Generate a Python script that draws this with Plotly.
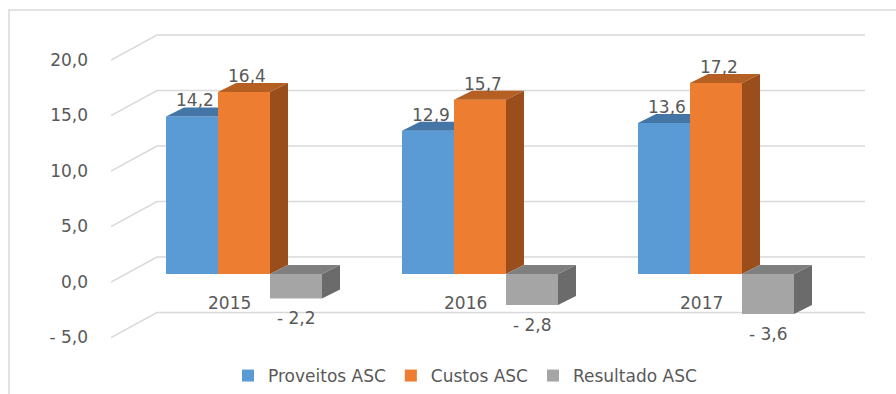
import plotly.graph_objects as go

# Chart data
years = ["2015", "2016", "2017"]
proveitos = [14.2, 12.9, 13.6]
custos = [16.4, 15.7, 17.2]
resultado = [-2.2, -2.8, -3.6]
series_names = ["Proveitos ASC", "Custos ASC", "Resultado ASC"]
tick_values = [-5, 0, 5, 10, 15, 20]
tick_labels = ["- 5,0", "0,0", "5,0", "10,0", "15,0", "20,0"]

# Colours: front face, top face, side face
front_colors = ["#5b9bd5", "#ed7d31", "#a5a5a5"]
top_colors = ["#4375a6", "#b65f23", "#7f7f7f"]
side_colors = ["#3f6d98", "#9a4e1c", "#6b6b6b"]

# Layout geometry (pixels)
W, H = 896, 394
ML, MR, MT, MB = 111, 16, 20, 44
PX_X = 236.0   # pixels per category step
PX_Y = 11.1    # pixels per value unit
plot_w = W - ML - MR
plot_h = H - MT - MB
x_min = -0.5
x_max = x_min + plot_w / PX_X
y_zero_px = 282 - MT          # zero on the front edge of the floor
y_max = y_zero_px / PX_Y
y_min = -(plot_h - y_zero_px) / PX_Y


def depth(dx_px, dy_px):
    """Oblique projection offset, pixels -> data units."""
    return dx_px / PX_X, dy_px / PX_Y


bar_off = depth(15, 8)     # floor front edge -> bar front plane
bar_depth = depth(18, 9)   # bar front -> bar back
wall_off = depth(46, 25)   # floor front edge -> back wall
bw = 52 / PX_X             # bar width

values = [proveitos, custos, resultado]
n_cat = len(years)
n_ser = len(values)

fig = go.Figure()

# Back wall gridlines with the diagonal on the side wall (behind the bars)
grid_shapes = []
for v in tick_values:
    pts = [(x_min, v), (x_min + wall_off[0], v + wall_off[1]),
           (n_cat - 0.5 + wall_off[0], v + wall_off[1])]
    path = "M " + " L ".join(f"{px},{py}" for px, py in pts)
    grid_shapes.append(dict(type="path", xref="x", yref="y", path=path, layer="below",
                            line=dict(color="#d9d9d9", width=1.5)))


def bar_x(i, s):
    return i + bar_off[0] + (s - 1) * bw


# Front faces
for s in range(n_ser):
    fig.add_trace(go.Bar(
        x=[bar_x(i, s) for i in range(n_cat)], y=values[s], base=bar_off[1],
        width=bw, name=series_names[s], marker=dict(color=front_colors[s], line=dict(width=0)),
        hoverinfo="skip"))

# Top and side faces
dx, dy = bar_depth
z0 = bar_off[1]
for s in range(n_ser):
    tx, ty, sx, sy = [], [], [], []
    for i in range(n_cat):
        v = values[s][i]
        xc = bar_x(i, s)
        xl, xr = xc - bw / 2, xc + bw / 2
        lo, hi = min(0, v) + z0, max(0, v) + z0
        nxt = values[s + 1][i] if s + 1 < n_ser else None
        if nxt is not None:
            n_lo, n_hi = min(0, nxt) + z0, max(0, nxt) + z0
        top = hi
        covered_top = nxt is not None and n_hi >= top + dy and n_lo <= top
        if covered_top:
            tx += [xl, xr, xr, xl + dx, xl, None]
            ty += [top, top, top + dy, top + dy, top, None]
        else:
            tx += [xl, xr, xr + dx, xl + dx, xl, None]
            ty += [top, top, top + dy, top + dy, top, None]
        covered_side = nxt is not None and n_lo <= lo and n_hi >= hi + dy
        if not covered_side:
            sx += [xr, xr + dx, xr + dx, xr, xr, None]
            sy += [lo, lo + dy, hi + dy, hi, lo, None]
    fig.add_trace(go.Scatter(x=tx, y=ty, mode="lines", fill="toself", fillcolor=top_colors[s],
                             line=dict(width=0), hoverinfo="skip", showlegend=False))
    if sx:
        fig.add_trace(go.Scatter(x=sx, y=sy, mode="lines", fill="toself", fillcolor=side_colors[s],
                                 line=dict(width=0), hoverinfo="skip", showlegend=False))

txt_color = "#595959"
font = dict(family="DejaVu Sans", size=17, color=txt_color)


def fmt(v):
    s = f"{abs(v):.1f}".replace(".", ",")
    return s if v >= 0 else "- " + s


annotations = []
for s in range(n_ser):
    for i in range(n_cat):
        v = values[s][i]
        annotations.append(dict(
            x=bar_x(i, s), y=v + z0, xref="x", yref="y", text=fmt(v), showarrow=False,
            font=font, xshift=3 if v >= 0 else 0, yshift=16 if v >= 0 else -20,
            xanchor="center", yanchor="middle"))
for i, yr in enumerate(years):
    annotations.append(dict(x=i, y=0, xref="x", yref="y", text=yr, showarrow=False,
                            font=font, yshift=-21, xanchor="center", yanchor="middle"))

border = dict(type="rect", xref="paper", yref="paper",
              x0=(9 - ML) / plot_w, x1=1.1, y0=-0.3, y1=(plot_h + MT - 10) / plot_h,
              line=dict(color="#d9d9d9", width=1.5), layer="below")

fig.update_layout(
    width=W, height=H,
    margin=dict(l=ML, r=MR, t=MT, b=MB, pad=0, autoexpand=False),
    paper_bgcolor="white", plot_bgcolor="white",
    barmode="overlay",
    font=font,
    xaxis=dict(range=[x_min, x_max], visible=False, fixedrange=True),
    yaxis=dict(range=[y_min, y_max], tickvals=tick_values, ticktext=tick_labels,
               showgrid=False, zeroline=False, showline=False, ticks="",
               ticklabelstandoff=22, tickfont=font, fixedrange=True),
    legend=dict(orientation="h", x=(465 - ML) / plot_w, y=(plot_h + MT - 376) / plot_h,
                xanchor="center", yanchor="middle",
                font=dict(family="DejaVu Sans", size=17, color=txt_color),
                itemsizing="constant", traceorder="normal", tracegroupgap=0),
    annotations=annotations,
    shapes=[border] + grid_shapes,
)

fig.write_html("out.html")
